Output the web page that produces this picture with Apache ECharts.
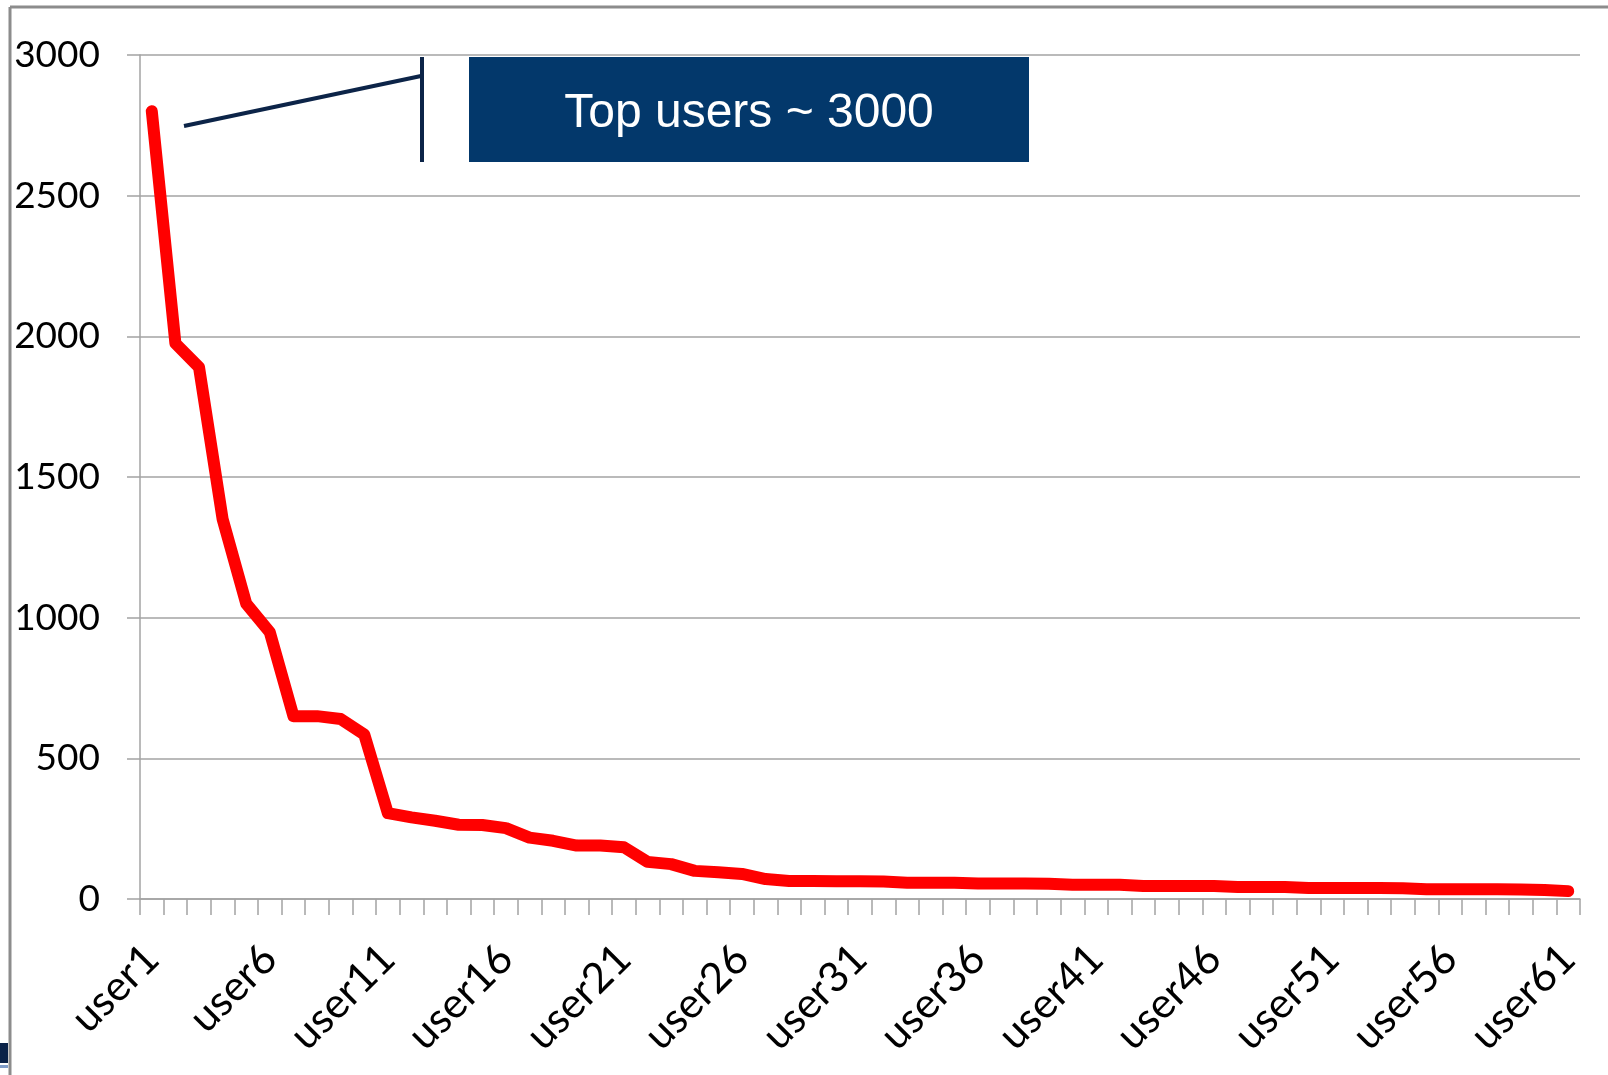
<!DOCTYPE html>
<html>
<head>
<meta charset="utf-8">
<script src="https://cdn.jsdelivr.net/npm/echarts@6/dist/echarts.min.js"></script>
<style>
html,body{margin:0;padding:0;background:#fff;}
#users-chart{width:1608px;height:1075px;}
</style>
</head>
<body>
<div id="users-chart"></div>
<script>
// 用户数据
var userNames = [
	'user1','user2','user3','user4','user5','user6','user7','user8','user9','user10',
	'user11','user12','user13','user14','user15','user16','user17','user18','user19','user20',
	'user21','user22','user23','user24','user25','user26','user27','user28','user29','user30',
	'user31','user32','user33','user34','user35','user36','user37','user38','user39','user40',
	'user41','user42','user43','user44','user45','user46','user47','user48','user49','user50',
	'user51','user52','user53','user54','user55','user56','user57','user58','user59','user60',
	'user61'
];
var userCounts = [
	2800,1975,1890,1350,1050,948,650,650,640,585,
	305,290,278,264,263,252,218,207,190,190,
	184,132,124,100,95,89,71,64,64,63,
	63,62,58,58,58,55,55,55,54,51,
	51,51,46,46,46,46,43,43,43,39,
	39,39,39,38,35,35,35,35,34,32,
	28
];
var yTicks = [0,500,1000,1500,2000,2500,3000];
var calloutText = 'Top users ~ 3000';

var gridColor = '#a3a3a3';
var navy = '#03386b';

var users_chart = echarts.init(document.getElementById('users-chart'));
users_chart.setOption({
	animation:false,
	backgroundColor:'#fff',
	grid:{
		left:140,
		right:28,
		top:55,
		bottom:176,
		outerBoundsMode:'none'
	},
	xAxis:{
		type:'category',
		data:userNames,
		boundaryGap:true,
		axisLine:{lineStyle:{color:gridColor,width:1.5}},
		axisTick:{show:true,interval:0,length:16,lineStyle:{color:gridColor,width:1.5}},
		axisLabel:{
			interval:4,
			rotate:45,
			margin:53,
			color:'#000',
			fontFamily:'Lato',
			fontSize:42
		},
		splitLine:{show:false}
	},
	yAxis:{
		type:'value',
		min:yTicks[0],
		max:yTicks[yTicks.length-1],
		interval:500,
		axisLine:{show:true,lineStyle:{color:gridColor,width:1.5}},
		axisTick:{show:true,length:13,lineStyle:{color:gridColor,width:1.5}},
		axisLabel:{
			margin:40,
			color:'#000',
			fontFamily:'Lato',
			fontSize:37,
			formatter:function(v){return String(v);}
		},
		splitLine:{lineStyle:{color:gridColor,width:1.5}}
	},
	series:[{
		type:'line',
		data:userCounts,
		showSymbol:false,
		symbol:'none',
		lineStyle:{color:'#ff0000',width:12,cap:'round',join:'round'}
	}],
	graphic:[
		// 外框
		{type:'line',shape:{x1:10,y1:7,x2:1608,y2:7},style:{stroke:'#8c8c8c',lineWidth:3},silent:true},
		{type:'line',shape:{x1:10,y1:7,x2:10,y2:1075},style:{stroke:'#8c8c8c',lineWidth:3},silent:true},
		{type:'rect',shape:{x:0,y:1043,width:8,height:20},style:{fill:'#0a2248'},silent:true},
		{type:'rect',shape:{x:0,y:1065,width:8,height:3},style:{fill:'#7f9cc8'},silent:true},
		// 标注
		{type:'line',shape:{x1:184,y1:126,x2:421,y2:76},style:{stroke:'#0c2448',lineWidth:4},silent:true},
		{type:'line',shape:{x1:422,y1:57,x2:422,y2:162},style:{stroke:'#0c2448',lineWidth:4},silent:true},
		{type:'rect',shape:{x:469,y:57,width:560,height:105},style:{fill:navy},silent:true},
		{type:'text',x:749,y:114,style:{text:calloutText,fill:'#fff',font:'48px "Liberation Sans", Arial, sans-serif',align:'center',verticalAlign:'middle'},silent:true}
	]
});
</script>
</body>
</html>
